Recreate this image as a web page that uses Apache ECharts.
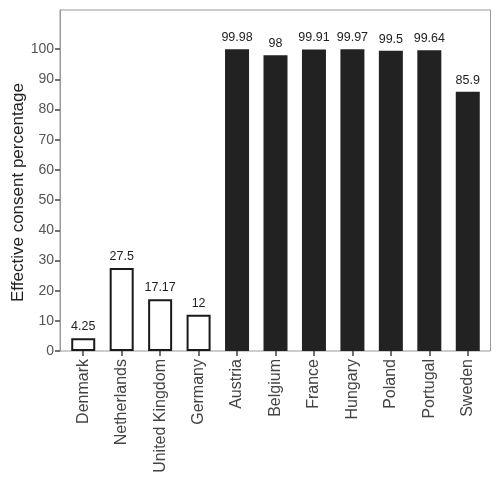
<!DOCTYPE html>
<html><head><meta charset="utf-8">
<script src="https://cdn.jsdelivr.net/npm/echarts@6/dist/echarts.min.js"></script>
<style>html,body{margin:0;padding:0;background:#fff}#c{width:501px;height:502px}</style>
</head><body><div id="c"></div>
<script>
var categories = ['Denmark','Netherlands','United Kingdom','Germany','Austria','Belgium','France','Hungary','Poland','Portugal','Sweden'];
var values = [4.25, 27.5, 17.17, 12, 99.98, 98, 99.91, 99.97, 99.5, 99.64, 85.9];
var groups = ['opt-in','opt-in','opt-in','opt-in','opt-out','opt-out','opt-out','opt-out','opt-out','opt-out','opt-out'];
var valueLabels = ['4.25','27.5','17.17','12','99.98','98','99.91','99.97','99.5','99.64','85.9'];
var yTicks = [0,10,20,30,40,50,60,70,80,90,100];

var font = 'Liberation Sans, Arial, sans-serif';
var chart = echarts.init(document.getElementById('c'));
var data = values.map(function(v,i){
  var out = groups[i] === 'opt-in';
  return {
    value: v,
    itemStyle: out ? {color:'#ffffff', borderColor:'#1a1a1a', borderWidth:2} : {color:'#222222', borderColor:'#222222', borderWidth:0},
    label: {formatter: valueLabels[i]}
  };
});
chart.setOption({
  animation:false,
  grid:[
    {left:60, right:10.5, top:10, bottom:151, show:true, borderColor:'#9a9a9a', borderWidth:1, backgroundColor:'transparent', outerBoundsMode:'none', containLabel:false},
    {left:64, right:14, top:10, bottom:151, outerBoundsMode:'none', containLabel:false}
  ],
  xAxis:[
    {gridIndex:0, type:'value', show:false, min:0, max:1},
    {gridIndex:1, type:'category', data:categories,
     axisLine:{show:false},
     axisTick:{show:true, alignWithLabel:true, length:5, lineStyle:{color:'#444', width:1.5}, interval:0},
     axisLabel:{rotate:90, interval:0, fontFamily:font, fontSize:16, color:'#444', margin:8}
    }
  ],
  yAxis:[
    {gridIndex:0, type:'value', min:0, max:113, interval:10,
     name:'Effective consent percentage', nameLocation:'middle', nameGap:33, nameMoveOverlap:false,
     nameTextStyle:{fontFamily:font, fontSize:17, color:'#222', padding:[0,24,0,0]},
     axisLine:{show:true, lineStyle:{color:'#9a9a9a'}},
     axisTick:{show:true, length:5, lineStyle:{color:'#444', width:1.5}, customValues: yTicks},
     axisLabel:{show:true, fontFamily:font, fontSize:14, color:'#555', margin:6, customValues: yTicks},
     splitLine:{show:false}},
    {gridIndex:1, type:'value', min:0, max:113, interval:10, show:false}
  ],
  series:[
    {type:'bar', xAxisIndex:1, yAxisIndex:1, data:data, barWidth:24,
     label:{show:true, position:'top', distance:5, fontFamily:font, fontSize:12.5, color:'#222'}},
    {type:'scatter', xAxisIndex:0, yAxisIndex:0, data:[], silent:true}
  ]
});
</script></body></html>
